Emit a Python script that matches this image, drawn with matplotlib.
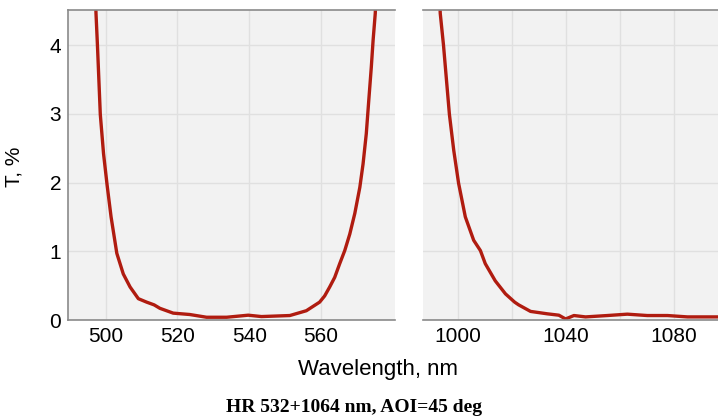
import numpy as np
import matplotlib
matplotlib.use("Agg")
import matplotlib.pyplot as plt

# transmission curve around 532 nm
vis_nm = [497.0, 497.3, 497.7, 498.5, 499.4, 500.4, 501.5, 503.1, 504.9, 506.8,
          509.1, 511.4, 513.5, 515.1, 518.8, 523.4, 528.1, 533.7, 539.7, 543.4,
          551.3, 555.9, 559.6, 561.0, 562.4, 563.8, 565.2, 566.6, 568.0, 569.4,
          570.8, 571.7, 572.6, 573.3, 574.0, 574.5, 575.1, 575.5]
vis_t = [5.0, 4.46, 4.00, 2.99, 2.42, 1.96, 1.50, 0.97, 0.67, 0.48,
         0.31, 0.26, 0.22, 0.17, 0.10, 0.08, 0.04, 0.04, 0.07, 0.05,
         0.065, 0.135, 0.26, 0.35, 0.48, 0.62, 0.82, 1.01, 1.25, 1.55,
         1.93, 2.27, 2.71, 3.20, 3.68, 4.07, 4.46, 5.0]

# transmission curve around 1064 nm
ir_nm = [992.8, 993.4, 994.6, 996.8, 998.4, 1000.2, 1002.7, 1005.8, 1008.3, 1010.1,
         1013.8, 1017.6, 1021.0, 1022.5, 1026.9, 1033.1, 1037.4, 1039.9, 1043.0,
         1047.3, 1055.4, 1062.8, 1070.2, 1077.7, 1085.1, 1100.0]
ir_t = [5.0, 4.46, 4.00, 2.99, 2.47, 1.99, 1.50, 1.16, 1.01, 0.82,
        0.57, 0.38, 0.26, 0.22, 0.125, 0.09, 0.07, 0.015, 0.065,
        0.045, 0.065, 0.085, 0.065, 0.065, 0.045, 0.045]

y_ticks = [0, 1, 2, 3, 4]

line_color = '#b01c10'
bg = '#f2f2f2'
grid_c = '#e0e0e0'
spine_c = '#8a8a8a'

plt.rcParams['font.family'] = ['Liberation Sans', 'DejaVu Sans']

fig = plt.figure(figsize=(7.18, 4.16), dpi=100)
ax1 = fig.add_axes([68 / 718, 96 / 416, 327 / 718, 310 / 416])
ax2 = fig.add_axes([423 / 718, 96 / 416, 300 / 718, 310 / 416])

for ax in (ax1, ax2):
    ax.set_facecolor(bg)
    ax.set_ylim(0, 4.51)
    ax.set_yticks(y_ticks)
    ax.grid(True, color=grid_c, linewidth=1, which='both')
    ax.set_axisbelow(True)
    ax.tick_params(length=0, labelsize=15, pad=5)
    ax.spines['right'].set_visible(False)
    for s in ('top', 'bottom', 'left'):
        ax.spines[s].set_color(spine_c)
        ax.spines[s].set_linewidth(1.2)

ax2.spines['left'].set_visible(False)

ax1.plot(vis_nm, vis_t, color=line_color, linewidth=2.4, solid_joinstyle='round')
ax1.set_xlim(489.5, 580.6)
ax1.set_xticks([500, 520, 540, 560])

ax2.plot(ir_nm, ir_t, color=line_color, linewidth=2.4, solid_joinstyle='round')
ax2.set_xlim(987.0, 1098.3)
ax2.set_xticks([1000, 1040, 1080])
ax2.set_xticks([1020, 1060], minor=True)
ax2.tick_params(which='minor', length=0)
ax2.set_yticklabels([])

fig.text(14 / 718, 1 - 167 / 416, 'T, %', rotation=90, ha='center', va='center', fontsize=15)
fig.text(378 / 718, 1 - 369 / 416, 'Wavelength, nm', ha='center', va='center', fontsize=16)
fig.text(354 / 718, 1 - 408 / 416, 'HR 532+1064 nm, AOI=45 deg', ha='center', va='center',
         fontsize=14, fontweight='bold', family=['Liberation Serif', 'DejaVu Serif'])

plt.savefig('out.png', dpi=100)
